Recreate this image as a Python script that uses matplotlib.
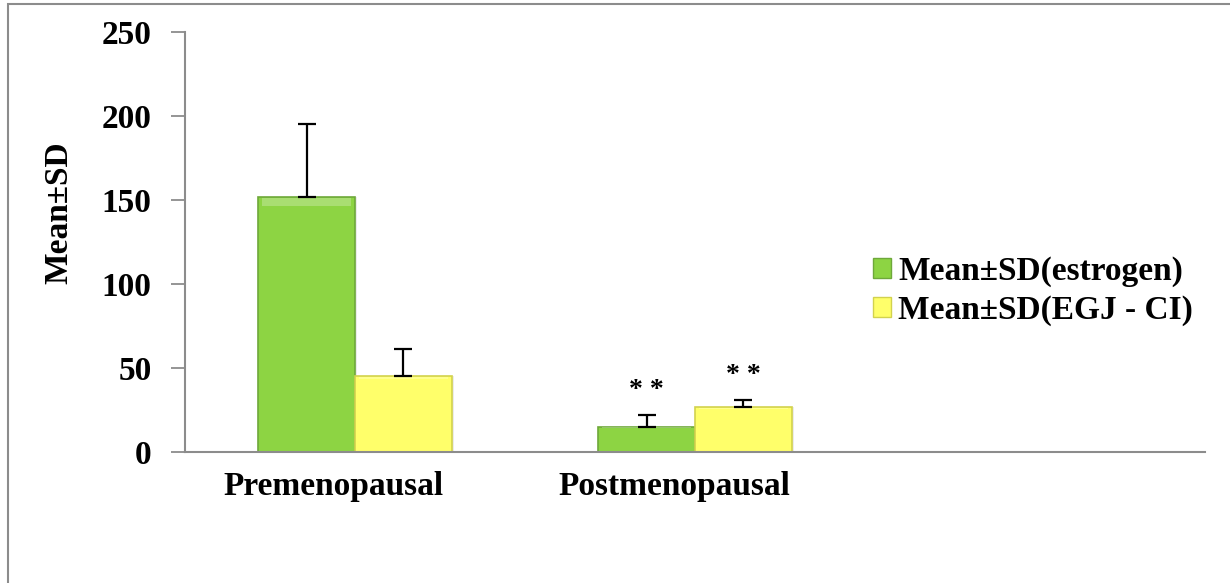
import matplotlib.pyplot as plt
import numpy as np
from matplotlib.patches import Patch, Rectangle

# data
categories = ["Premenopausal", "Postmenopausal", ""]
series_names = ["Mean±SD(estrogen)", "Mean±SD(EGJ - CI)"]
estrogen_mean = [152, 15]
estrogen_sd = [43, 7]
egj_mean = [45, 26.6]
egj_sd = [16.5, 4.4]
significance = ["", "* *"]  # marks above the postmenopausal bars
y_ticks = [0, 50, 100, 150, 200, 250]

plt.rcParams["font.family"] = ["Liberation Serif", "DejaVu Serif"]
plt.rcParams["font.weight"] = "bold"
plt.rcParams["axes.labelweight"] = "bold"

green = "#8DD443"
green_edge = "#6EA83A"
yellow = "#FFFF6A"
yellow_edge = "#D2D24E"
axis_grey = "#8C8C8C"

fig = plt.figure(figsize=(12.3, 5.83), dpi=100)
ax = fig.add_axes([185 / 1230, 131 / 583, 1020 / 1230, 420 / 583])

# outer frame of the chart area (cropped on the right and bottom)
fig.patches.append(Rectangle((7.5 / 1230, -0.2), 1.5, 1.2 - 4 / 583,
                             transform=fig.transFigure, fill=False,
                             edgecolor=axis_grey, lw=1.5))

n_cat = len(categories)
n = len(estrogen_mean)
x = np.arange(n)
width = 0.285

for means, sds, fc, ec, off in [(estrogen_mean, estrogen_sd, green, green_edge, -width / 2),
                                (egj_mean, egj_sd, yellow, yellow_edge, width / 2)]:
    xs = x + off
    # soft shadow
    ax.bar(xs + 0.006, means, width, color="#000000", alpha=0.08, zorder=1)
    ax.bar(xs, means, width, color=fc, edgecolor=ec, linewidth=1.2, zorder=2)
    # top highlight to hint at the bevel
    ax.bar(xs, [m * 0.03 for m in means], width * 0.92, bottom=[m * 0.965 for m in means],
           color="white", alpha=0.25, linewidth=0, zorder=3)
    ax.errorbar(xs, means, yerr=[np.zeros(n), sds], fmt="none", ecolor="black",
                elinewidth=1.6, capsize=6.5, capthick=1.6, zorder=4)
    for xi, m, s, sig in zip(xs, means, sds, significance):
        if sig:
            ax.annotate(sig, (xi, m + s), xytext=(0, 18), textcoords="offset pixels",
                        ha="center", va="baseline", fontsize=20, fontweight="bold")

ax.set_xlim(-0.5, n_cat - 0.5)
ax.set_ylim(0, 250)
ax.set_yticks(y_ticks)
ax.tick_params(axis="y", length=10, width=1.3, color=axis_grey, pad=14, labelsize=24)
ax.tick_params(axis="x", length=0, pad=14, labelsize=24)
ax.set_xticks(np.arange(n_cat) - 0.062)
ax.set_xticklabels(categories)

for side in ["top", "right"]:
    ax.spines[side].set_visible(False)
for side in ["left", "bottom"]:
    ax.spines[side].set_color(axis_grey)
    ax.spines[side].set_linewidth(1.5)

ax.set_ylabel("Mean±SD", fontsize=24, fontweight="bold")
ax.yaxis.set_label_coords(-0.108, 0.569)

handles = [Patch(facecolor=green, edgecolor=green_edge), Patch(facecolor=yellow, edgecolor=yellow_edge)]
fig.legend(handles, series_names, loc="center left", bbox_to_anchor=(873 / 1230, 1 - 291 / 583),
           frameon=False, fontsize=24, handlelength=0.55, handleheight=0.55,
           handletextpad=0.2, labelspacing=0.25, borderpad=0, borderaxespad=0)

fig.savefig("out.png", dpi=100)
plt.close()
